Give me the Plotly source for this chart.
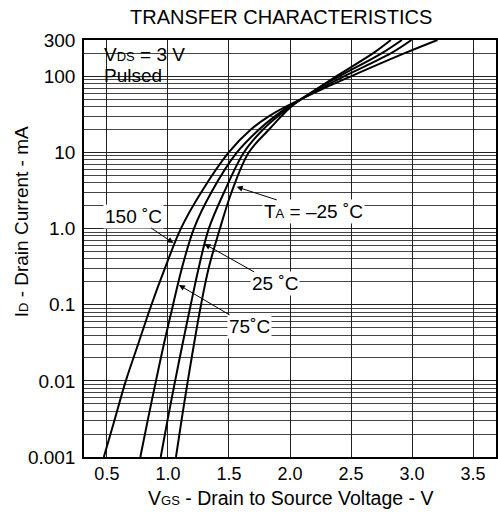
import plotly.graph_objects as go

# Drain current levels (mA) at which each curve was read
current_ma = [0.001, 0.003, 0.01, 0.03, 0.1, 0.3, 1, 3, 10, 20, 30, 40, 70, 100, 200, 300]

# Gate-source voltage (V) for each temperature at the current levels above
vgs_150 = [0.475, 0.561, 0.655, 0.755, 0.865, 0.975, 1.106, 1.273, 1.498, 1.679, 1.829, 1.966, 2.282, 2.499, 2.935, 3.208]
vgs_75 = [0.774, 0.834, 0.902, 0.966, 1.042, 1.114, 1.213, 1.356, 1.565, 1.746, 1.878, 1.99, 2.257, 2.443, 2.825, 2.995]
vgs_25 = [0.941, 0.996, 1.059, 1.119, 1.187, 1.251, 1.335, 1.46, 1.622, 1.779, 1.902, 2.0, 2.233, 2.404, 2.75, 2.917]
vgs_m25 = [1.066, 1.111, 1.163, 1.213, 1.271, 1.333, 1.426, 1.521, 1.662, 1.828, 1.93, 2.01, 2.231, 2.378, 2.679, 2.826]

series = [("150 °C", vgs_150), ("75 °C", vgs_75), ("25 °C", vgs_25), ("-25 °C", vgs_m25)]

x_ticks = [0.5, 1.0, 1.5, 2.0, 2.5, 3.0, 3.5]
x_tick_text = ["0.5", "1.0", "1.5", "2.0", "2.5", "3.0", "3.5"]
y_ticks = [0.001, 0.01, 0.1, 1, 10, 100, 300]
y_tick_text = ["0.001", "0.01", "0.1", "1.0", "10", "100", "300"]

FONT = "Liberation Sans, Arial, Helvetica, sans-serif"
SUB = "<span style='font-size:13px'>{}</span>"

fig = go.Figure()
for name, v in series:
    fig.add_trace(go.Scatter(
        x=v, y=current_ma, mode="lines", name=name,
        line=dict(color="black", width=2, shape="spline", smoothing=1.0),
        showlegend=False, hoverinfo="skip"))

minor_vals = [m * 10 ** e for e in range(-3, 3) for m in range(2, 10) if m * 10 ** e < 300]

W, H = 498, 515
L, R, T, B = 84, 0, 40, 58
pw, ph = W - L - R, H - T - B


def px(xp):
    return (xp - L) / pw


def py(yp):
    return (H - B - yp) / ph


fig.update_layout(
    width=W, height=H,
    margin=dict(l=L, r=R, t=T, b=B),
    paper_bgcolor="white", plot_bgcolor="white",
    font=dict(family=FONT, size=19, color="black"),
    xaxis=dict(
        range=[0.3125, 3.6875], tickmode="array", tickvals=x_ticks, ticktext=x_tick_text,
        showgrid=True, gridcolor="#222", gridwidth=1,
        showline=True, linecolor="black", linewidth=1.5, mirror=True,
        ticks="", zeroline=False, tickfont=dict(size=18)),
    yaxis=dict(
        type="log", range=[-3, 2.4771], tickmode="array", tickvals=y_ticks, ticktext=y_tick_text,
        showgrid=True, gridcolor="#222", gridwidth=1.2,
        minor=dict(tickmode="array", tickvals=minor_vals, showgrid=True,
                   gridcolor="#444", gridwidth=1, ticks=""),
        showline=True, linecolor="black", linewidth=1.5, mirror=True,
        ticks="", zeroline=False, tickfont=dict(size=19), ticklabelstandoff=3),
)

# white box behind the test-condition text
fig.add_shape(type="rect", xref="paper", yref="paper", x0=0, x1=px(226), y0=py(85), y1=1,
              fillcolor="white", line=dict(width=0), layer="between")

plain = dict(xref="paper", yref="paper", showarrow=False, xanchor="center", yanchor="middle")
ann = []
ann.append(dict(text="TRANSFER CHARACTERISTICS", x=px(282), y=py(17), font=dict(size=20), **plain))
ann.append(dict(text="V" + SUB.format("GS") + " - Drain to Source Voltage - V",
                x=px(292), y=py(498), font=dict(size=19.5), **plain))
ann.append(dict(text="I" + SUB.format("D") + " - Drain Current - mA",
                x=px(22), y=py(222), textangle=-90, font=dict(size=19), **plain))
left = dict(plain, xanchor="left")
ann.append(dict(text="V" + SUB.format("DS") + " = 3 V", x=px(102), y=py(54), font=dict(size=19), **left))
ann.append(dict(text="Pulsed", x=px(102), y=py(75), font=dict(size=19), **left))

arrow_style = dict(showarrow=True, arrowhead=2, arrowsize=1.2, arrowwidth=1, arrowcolor="black",
                   bgcolor="white", borderpad=1, font=dict(size=19), standoff=0)
ann.append(dict(text="150 ˚C", x=1.045, y=-0.19, ax=-40, ay=-27, **arrow_style))
ann.append(dict(text="75˚C", x=1.09, y=-0.74, ax=71, ay=42, **arrow_style))
ann.append(dict(text="25 ˚C", x=1.299, y=-0.201, ax=71, ay=40, **arrow_style))
ann.append(dict(text="T" + SUB.format("A") + " = –25 ˚C", x=1.563, y=0.548, ax=77, ay=25, **arrow_style))

fig.update_layout(annotations=ann)

fig.write_html("out.html")
